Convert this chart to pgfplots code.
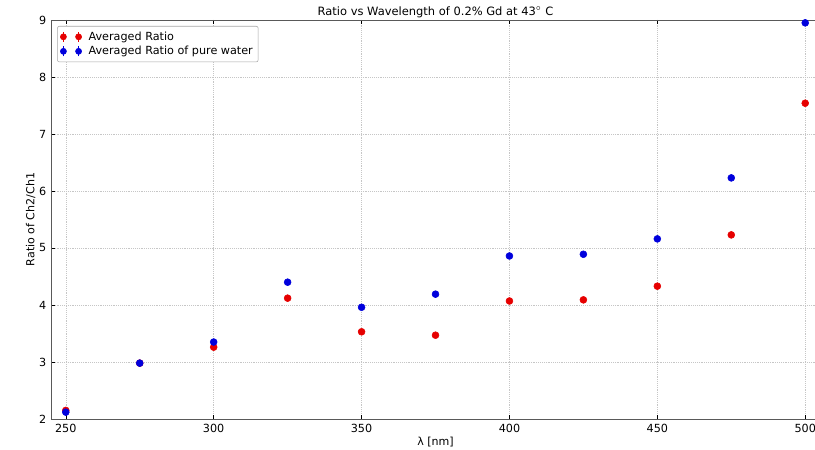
\documentclass[border=0pt]{standalone}
\usepackage{pgfplots}
\pgfplotsset{compat=1.18}
\usepackage{fontspec}
\setmainfont{DejaVu Sans}
\definecolor{mred}{RGB}{230,0,0}
\definecolor{mblue}{RGB}{0,0,220}
\pgfplotstableread{
x y
250 2.15
275 2.98
300 3.26
325 4.12
350 3.53
375 3.47
400 4.07
425 4.09
450 4.33
475 5.23
500 7.54
}\redtab
\pgfplotstableread{
x y
250 2.12
275 2.98
300 3.35
325 4.40
350 3.96
375 4.19
400 4.86
425 4.89
450 5.16
475 6.23
500 8.95
}\bluetab
\begin{document}
\begin{tikzpicture}
\begin{axis}[
  name=ax,
  scale only axis,
  width=576.75pt, height=299.25pt,
  xmin=245, xmax=505, ymin=2, ymax=9,
  xtick={250,300,...,500}, ytick={2,3,...,9},
  xticklabel={\pgfmathprintnumber{\tick}},
  yticklabel={\pgfmathprintnumber{\tick}},
  grid=major,
  major grid style={gray!45, densely dotted, line width=0.4pt},
  axis line style={gray!70!black, line width=0.6pt},
  tick align=inside, major tick length=3pt,
  tick style={black, line width=0.4pt},
  tick label style={font=\fontsize{8.4}{10}\selectfont},
  /pgf/number format/assume math mode=true,
  label style={font=\fontsize{8.3}{10}\selectfont},
  title style={font=\fontsize{8.6}{10}\selectfont, yshift=-8pt},
  title={Ratio vs Wavelength of 0.2\% Gd at 43$^\circ$ C},
  xlabel={λ [nm]},
  ylabel={Ratio of Ch2/Ch1},
  xlabel style={yshift=3pt},
  ylabel style={yshift=-4pt},
  legend cell align=left,
  legend style={font=\fontsize{8.4}{10}\selectfont, draw=gray!70, rounded corners=1.5pt, inner sep=2pt, row sep=-1pt, column sep=3pt, at={(0.008,0.985)}, anchor=north west},
]
\addplot[only marks, mark=*, mark size=2.6pt, color=mred,
  legend image code/.code={
    \draw[mred, line width=1pt] (0.1cm,-0.13cm)--(0.1cm,0.13cm) (0.5cm,-0.13cm)--(0.5cm,0.13cm);
    \fill[mred] (0.1cm,0) circle (2.3pt) (0.5cm,0) circle (2.3pt);
  }] table[x=x,y=y] {\redtab};
\addlegendentry{Averaged Ratio}
\addplot[only marks, mark=*, mark size=2.6pt, color=mblue,
  legend image code/.code={
    \draw[mblue, line width=1pt] (0.1cm,-0.13cm)--(0.1cm,0.13cm) (0.5cm,-0.13cm)--(0.5cm,0.13cm);
    \fill[mblue] (0.1cm,0) circle (2.3pt) (0.5cm,0) circle (2.3pt);
  }] table[x=x,y=y] {\bluetab};
\addlegendentry{Averaged Ratio of pure water}
\end{axis}
\pgfresetboundingbox
\path ([xshift=-38.25pt, yshift=-23.25pt]ax.south west) rectangle ([xshift=-3.75pt, yshift=15pt]ax.north east);
\end{tikzpicture}
\end{document}
